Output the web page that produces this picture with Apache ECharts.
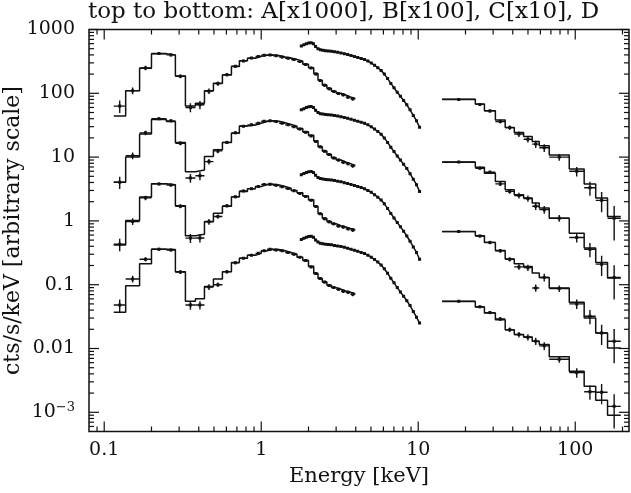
<!DOCTYPE html>
<html>
<head>
<meta charset="utf-8">
<script src="https://cdn.jsdelivr.net/npm/echarts@6/dist/echarts.min.js"></script>
<style>
  html, body { margin: 0; padding: 0; background: #fff; }
  #chart { width: 631px; height: 493px; }
</style>
</head>
<body>
<div id="chart"></div>
<script>
// ---------------- spectra (cts/s/keV, scaled A x1000, B x100, C x10, D x1) ----------------

// LECS channel edges (keV)
const lecsEdges = [0.115, 0.137, 0.168, 0.200, 0.249, 0.284, 0.329, 0.381, 0.435, 0.496, 0.566,
  0.646, 0.726, 0.817, 0.919, 1.00, 1.09, 1.19, 1.30, 1.42, 1.55, 1.69, 1.84, 2.00, 2.16,
  2.30, 2.45, 2.62, 2.80, 3.00, 3.22, 3.45, 3.70, 3.97];
// LECS folded model per channel
const lecsModelA = [44, 110, 247, 418, 398, 187, 63, 70, 110, 144, 194, 262, 325, 354, 380, 395, 398, 390,
  372, 357, 340, 318, 285, 252, 205, 160, 135, 120, 108, 100, 94, 88, 83];
const lecsModelB = [4.05, 10, 23, 39, 36, 16.9, 5.9, 6.3, 10.2, 13, 16.9, 23.7, 30.8, 31.9, 34, 36, 37, 36.5,
  34.5, 32.5, 30.5, 28, 25, 22, 18, 14.5, 12.5, 11, 9.8, 9.0, 8.4, 7.9, 7.4];
const lecsModelC = [0.42, 1.01, 2.36, 3.81, 3.7, 1.72, 0.585, 0.62, 0.98, 1.32, 1.7, 2.4, 2.9, 3.2, 3.45, 3.7,
  3.74, 3.65, 3.45, 3.25, 3.0, 2.75, 2.45, 2.15, 1.7, 1.3, 1.1, 0.98, 0.9, 0.84, 0.8, 0.76, 0.73];
const lecsModelD = [0.037, 0.096, 0.213, 0.361, 0.355, 0.16, 0.055, 0.06, 0.094, 0.123, 0.16, 0.223, 0.26,
  0.29, 0.31, 0.34, 0.36, 0.355, 0.34, 0.32, 0.30, 0.27, 0.24, 0.195, 0.15, 0.125, 0.11, 0.098, 0.09,
  0.085, 0.08, 0.076, 0.072];
// LECS measured counts per channel
const lecsDataA = [63, 110, 250, 420, 400, 185, 60, 66, 108, 142, 196, 265, 322, 356, 378, 396, 400, 388,
  370, 355, 338, 315, 283, 250, 200, 158, 134, 118, 107, 99, 95, 87, 82];
const lecsDataB = [4.05, 10.5, 24, 40, 37, 16.5, 4.7, 5.1, 8.5, 12.5, 17, 24, 30.5, 32, 34, 36.5, 37, 36,
  34, 32, 30, 27.5, 24.5, 21.5, 17.5, 14.5, 12.3, 11, 9.7, 9.0, 8.3, 7.9, 7.3];
const lecsDataC = [0.43, 0.98, 2.3, 3.8, 3.65, 1.7, 0.537, 0.54, 0.97, 1.17, 1.72, 2.38, 2.95, 3.2, 3.45,
  3.72, 3.75, 3.62, 3.42, 3.22, 2.98, 2.7, 2.42, 2.1, 1.68, 1.3, 1.08, 0.97, 0.9, 0.83, 0.8, 0.75, 0.72];
const lecsDataD = [0.048, 0.123, 0.25, 0.36, 0.35, 0.158, 0.048, 0.048, 0.092, 0.1, 0.16, 0.22, 0.26,
  0.29, 0.31, 0.34, 0.36, 0.35, 0.34, 0.32, 0.30, 0.27, 0.24, 0.19, 0.15, 0.125, 0.11, 0.097, 0.09,
  0.085, 0.079, 0.076, 0.071];
// LECS 1-sigma relative errors per channel
const lecsErr = [0.22, 0.12, 0.08, 0.05, 0.05, 0.07, 0.16, 0.15, 0.1, 0.08, 0.06, 0.05, 0.04, 0.04, 0.04,
  0.04, 0.04, 0.04, 0.04, 0.04, 0.04, 0.04, 0.04, 0.04, 0.05, 0.05, 0.05, 0.05, 0.05, 0.05, 0.06, 0.06, 0.07];

// MECS channel energies (keV) and counts
const mecsEnergy = [1.80, 1.87, 1.94, 2.01, 2.08, 2.15, 2.22, 2.30, 2.38, 2.47, 2.57, 2.68, 2.80, 2.93,
  3.07, 3.22, 3.38, 3.55, 3.73, 3.92, 4.12, 4.33, 4.55, 4.78, 5.02, 5.27, 5.53, 5.80, 6.08, 6.38,
  6.69, 7.01, 7.35, 7.70, 8.07, 8.46, 8.87, 9.30, 9.75, 10.2];
const mecsA = [550, 575, 598, 615, 620, 600, 540, 500, 480, 472, 466, 461, 455, 447, 439, 430, 418, 405,
  392, 378, 365, 352, 338, 320, 298, 275, 252, 228, 200, 170, 143, 122, 104, 90, 77, 66, 55, 45, 37, 29.4];
const mecsB = [55, 57.5, 60, 61.5, 62, 60, 54, 50, 48, 47.2, 46.5, 46, 45.5, 44.7, 43.9, 43, 41.8, 40.5,
  39.2, 37.8, 36.5, 35.2, 33.8, 32, 29.8, 27.5, 25.2, 22.8, 20, 17, 14.3, 12.2, 10.4, 9.0, 7.7, 6.6, 5.5,
  4.5, 3.7, 2.9];
const mecsC = [5.3, 5.55, 5.75, 5.9, 5.95, 5.75, 5.2, 4.8, 4.6, 4.53, 4.47, 4.42, 4.36, 4.28, 4.2, 4.1,
  3.98, 3.86, 3.73, 3.59, 3.46, 3.33, 3.19, 3.0, 2.8, 2.57, 2.35, 2.12, 1.85, 1.57, 1.31, 1.11, 0.94,
  0.81, 0.69, 0.58, 0.48, 0.39, 0.32, 0.25];
const mecsD = [0.51, 0.535, 0.555, 0.57, 0.575, 0.555, 0.50, 0.465, 0.445, 0.438, 0.432, 0.427, 0.421,
  0.413, 0.405, 0.396, 0.385, 0.373, 0.36, 0.347, 0.334, 0.321, 0.307, 0.29, 0.27, 0.248, 0.226, 0.204,
  0.178, 0.151, 0.126, 0.107, 0.09, 0.077, 0.066, 0.056, 0.047, 0.038, 0.031, 0.025];

// PDS channel edges (keV)
const pdsEdges = [14.2, 23.1, 26.4, 31.0, 35.8, 40.9, 46.9, 53.2, 59.0, 68.3, 91.6, 114, 135, 160.6, 195];
const pdsModelA = [80.7, 68, 53.5, 38.3, 29, 24.2, 21, 17.5, 15, 10.8, 6.5, 3.8, 2.28, 1.17];
const pdsModelB = [8.3, 6.95, 5.6, 4.14, 3.07, 2.56, 2.28, 1.9, 1.59, 1.1, 0.64, 0.375, 0.223, 0.127];
const pdsModelC = [0.68, 0.585, 0.46, 0.344, 0.252, 0.213, 0.193, 0.152, 0.13, 0.089, 0.053, 0.030, 0.0175, 0.0102];
const pdsModelD = [0.0547, 0.0447, 0.036, 0.0283, 0.0197, 0.0165, 0.0151, 0.013, 0.0115, 0.0074, 0.0044, 0.00255, 0.00154, 0.0009];
const pdsDataA = [80, 67, 53, 36, 29, 23, 19, 16, 14, 10, 6.0, 3.3, 2.1, 1.1];
const pdsDataB = [8.4, 6.7, 5.8, 3.8, 2.9, 2.5, 2.25, 1.7, 1.5, 1.1, 0.55, 0.36, 0.21, 0.13];
const pdsDataC = [0.68, 0.58, 0.46, 0.34, 0.25, 0.19, 0.185, 0.089, 0.13, 0.087, 0.05, 0.032, 0.0175, 0.013];
const pdsDataD = [0.055, 0.045, 0.0365, 0.029, 0.0197, 0.0165, 0.015, 0.013, 0.011, 0.0068, 0.0042, 0.0021, 0.00206, 0.00124];
const pdsErr = [0.03, 0.05, 0.06, 0.07, 0.08, 0.1, 0.11, 0.13, 0.14, 0.12, 0.17, 0.25, 0.35, 0.55];

// axis ticks
const xMajorTicks = [0.1, 1, 10, 100];
const xMinorTicks = [0.09, 0.2, 0.3, 0.4, 0.5, 0.6, 0.7, 0.8, 0.9, 2, 3, 4, 5, 6, 7, 8, 9,
  20, 30, 40, 50, 60, 70, 80, 90, 200];
const yMajorTicks = [0.001, 0.01, 0.1, 1, 10, 100, 1000];
const yMinorTicks = [0.0006, 0.0007, 0.0008, 0.0009,
  0.002, 0.003, 0.004, 0.005, 0.006, 0.007, 0.008, 0.009,
  0.02, 0.03, 0.04, 0.05, 0.06, 0.07, 0.08, 0.09,
  0.2, 0.3, 0.4, 0.5, 0.6, 0.7, 0.8, 0.9,
  2, 3, 4, 5, 6, 7, 8, 9,
  20, 30, 40, 50, 60, 70, 80, 90,
  200, 300, 400, 500, 600, 700, 800, 900];

// ---------------- helpers ----------------
const FONT = '"DejaVu Serif", "Liberation Serif", serif';
const INK = '#111';

// folded model drawn as a histogram over the channel edges
function stepPoints(edges, vals) {
  const pts = [];
  for (let i = 0; i < vals.length; i++) {
    pts.push([edges[i], vals[i]], [edges[i + 1], vals[i]]);
  }
  return pts;
}
// data points with channel width and 1-sigma error
function binnedPoints(edges, vals, rel) {
  return vals.map((v, i) => {
    const lo = edges[i], hi = edges[i + 1];
    const e = v * rel[i];
    return [Math.sqrt(lo * hi), v, lo, hi, v - e, v + e];
  });
}
function pointList(xs, vals, widthFrac, rel) {
  return vals.map((v, i) => [xs[i], v, xs[i] * (1 - widthFrac), xs[i] * (1 + widthFrac), v * (1 - rel), v * (1 + rel)]);
}

function crossItem(params, api) {
  const c = api.coord([api.value(0), api.value(1)]);
  const l = api.coord([api.value(2), api.value(1)]);
  const r = api.coord([api.value(3), api.value(1)]);
  const b = api.coord([api.value(0), api.value(4)]);
  const t = api.coord([api.value(0), api.value(5)]);
  const st = { stroke: INK, lineWidth: 1.4 };
  return {
    type: 'group',
    children: [
      { type: 'line', shape: { x1: l[0], y1: c[1], x2: r[0], y2: c[1] }, style: st },
      { type: 'line', shape: { x1: c[0], y1: b[1], x2: c[0], y2: t[1] }, style: st },
      { type: 'rect', shape: { x: c[0] - 1.5, y: c[1] - 1.5, width: 3, height: 3 }, style: { fill: INK } }
    ]
  };
}
function crossSeries(data) {
  return {
    type: 'custom', renderItem: crossItem, data: data, silent: true, clip: true, z: 3,
    encode: { x: [0, 2, 3], y: [1, 4, 5] }
  };
}
function modelSeries(points) {
  return {
    type: 'line', data: points, showSymbol: false, silent: true, z: 2,
    lineStyle: { color: INK, width: 1.5 }
  };
}

// inward ticks on all four sides of the frame
function xTickItem(params, api) {
  const cs = params.coordSys;
  const x = api.coord([api.value(0), 1])[0];
  const len = api.value(1) ? 10 : 5;
  const st = { stroke: INK, lineWidth: 1.2 };
  return {
    type: 'group', children: [
      { type: 'line', shape: { x1: x, y1: cs.y + cs.height, x2: x, y2: cs.y + cs.height - len }, style: st },
      { type: 'line', shape: { x1: x, y1: cs.y, x2: x, y2: cs.y + len }, style: st }
    ]
  };
}
function yTickItem(params, api) {
  const cs = params.coordSys;
  const y = api.coord([1, api.value(1)])[1];
  const len = api.value(0) ? 10 : 5;
  const st = { stroke: INK, lineWidth: 1.2 };
  return {
    type: 'group', children: [
      { type: 'line', shape: { x1: cs.x, y1: y, x2: cs.x + len, y2: y }, style: st },
      { type: 'line', shape: { x1: cs.x + cs.width, y1: y, x2: cs.x + cs.width - len, y2: y }, style: st }
    ]
  };
}

const xTickData = xMajorTicks.map(v => [v, 1]).concat(xMinorTicks.map(v => [v, 0]));
const yTickData = yMajorTicks.map(v => [1, v]).concat(yMinorTicks.map(v => [0, v]));

const spectra = [
  [lecsModelA, lecsDataA, mecsA, pdsModelA, pdsDataA],
  [lecsModelB, lecsDataB, mecsB, pdsModelB, pdsDataB],
  [lecsModelC, lecsDataC, mecsC, pdsModelC, pdsDataC],
  [lecsModelD, lecsDataD, mecsD, pdsModelD, pdsDataD]
];

const series = [];
spectra.forEach(([lm, ld, md, pm, pd]) => {
  series.push(modelSeries(stepPoints(lecsEdges, lm)));
  series.push(crossSeries(binnedPoints(lecsEdges, ld, lecsErr)));
  series.push(modelSeries(mecsEnergy.map((e, i) => [e, md[i]])));
  series.push(crossSeries(pointList(mecsEnergy, md, 0.018, 0.03)));
  series.push(modelSeries(stepPoints(pdsEdges, pm)));
  series.push(crossSeries(binnedPoints(pdsEdges, pd, pdsErr)));
});
series.push({ type: 'custom', renderItem: xTickItem, data: xTickData, silent: true, clip: false, z: 4,
  encode: { x: 0 } });
series.push({ type: 'custom', renderItem: yTickItem, data: yTickData, silent: true, clip: false, z: 4,
  encode: { y: 1 } });

const chart = echarts.init(document.getElementById('chart'), null, { renderer: 'canvas' });
chart.setOption({
  animation: false,
  backgroundColor: '#fff',
  title: {
    text: 'top to bottom: A[x1000], B[x100], C[x10], D',
    left: 88, top: 0, padding: 0,
    textStyle: { fontFamily: FONT, fontSize: 23, lineHeight: 25, fontWeight: 'normal', color: INK }
  },
  grid: {
    left: 89, top: 29.5, width: 540, height: 402,
    outerBoundsMode: 'none', containLabel: false,
    show: true, borderColor: INK, borderWidth: 1.5, backgroundColor: 'transparent'
  },
  xAxis: {
    type: 'log', logBase: 10, min: 0.08, max: 220,
    name: 'Energy [keV]', nameLocation: 'middle', nameGap: 35,
    nameMoveOverlap: false,
    nameTextStyle: { fontFamily: FONT, fontSize: 21, color: INK },
    axisLine: { show: false }, axisTick: { show: false }, splitLine: { show: false },
    axisLabel: {
      fontFamily: FONT, fontSize: 19, color: INK, margin: 9,
      showMinLabel: false, showMaxLabel: false,
      formatter: v => String(+v.toPrecision(3))
    }
  },
  yAxis: {
    type: 'log', logBase: 10, min: 0.0005, max: 1000,
    name: 'cts/s/keV [arbitrary scale]', nameLocation: 'middle', nameGap: 65,
    nameMoveOverlap: false,
    nameTextStyle: { fontFamily: FONT, fontSize: 22, color: INK },
    axisLine: { show: false }, axisTick: { show: false }, splitLine: { show: false },
    axisLabel: {
      fontFamily: FONT, fontSize: 19, color: INK, margin: 14,
      showMinLabel: false,
      formatter: v => (v < 0.002 ? '{m|10}{e|−3}' : String(+v.toPrecision(3))),
      rich: {
        m: { fontFamily: FONT, fontSize: 19, color: INK },
        e: { fontFamily: FONT, fontSize: 13, color: INK, verticalAlign: 'top', padding: [0, 0, 10, 0] }
      }
    }
  },
  series: series
});
</script>
</body>
</html>
